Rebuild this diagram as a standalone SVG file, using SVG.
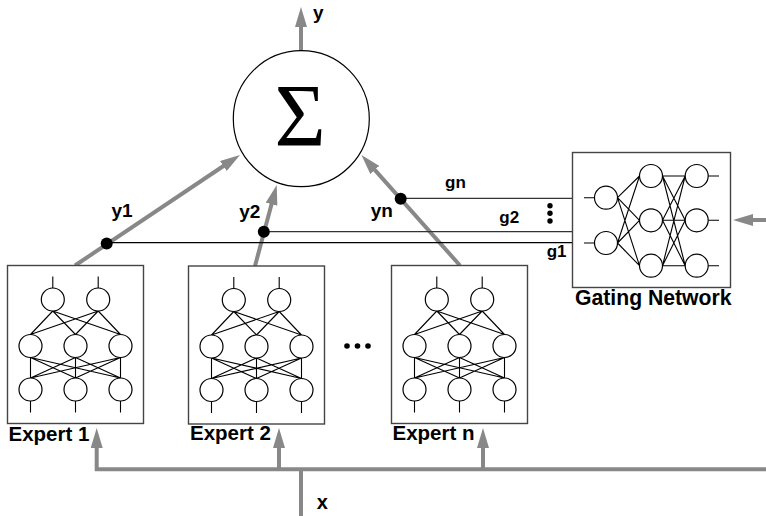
<svg xmlns="http://www.w3.org/2000/svg" xmlns:xlink="http://www.w3.org/1999/xlink" width="766" height="516" viewBox="0 0 766 516">
<style>
.lbl{font-family:"Liberation Sans",Arial,sans-serif;font-weight:bold;fill:#000}
.n{fill:#fff;stroke:#000;stroke-width:1.2}
.w{stroke:#000;stroke-width:1.1;fill:none}
.box{fill:#fff;stroke:#444;stroke-width:1.4}
.g{stroke:#888;stroke-width:4;fill:none}
.gate{stroke:#333;stroke-width:1.2;fill:none}
</style>
<defs>
<marker id="ah" markerUnits="userSpaceOnUse" markerWidth="20" markerHeight="12" refX="1" refY="6" orient="auto">
<path d="M0,0 L20,6 L0,12 Z" fill="#888"/>
</marker>
<g id="net">
<rect class="box" x="0" y="0" width="136" height="158"/>
<path class="w" d="M45.3,11 V22.5 M90.7,11 V22.5 M23,135.5 V147 M68,135.5 V147 M113,135.5 V147"/>
<path class="w" d="M45.3,45.5 L23,69 M45.3,45.5 L68,69 M45.3,45.5 L113,69 M90.7,45.5 L23,69 M90.7,45.5 L68,69 M90.7,45.5 L113,69"/>
<path class="w" d="M23,92 L23,112.5 M23,92 L68,112.5 M23,92 L113,112.5 M68,92 L23,112.5 M68,92 L68,112.5 M68,92 L113,112.5 M113,92 L23,112.5 M113,92 L68,112.5 M113,92 L113,112.5"/>
<circle class="n" cx="45.3" cy="34" r="11.5"/>
<circle class="n" cx="90.7" cy="34" r="11.5"/>
<circle class="n" cx="23" cy="80.5" r="11.5"/>
<circle class="n" cx="68" cy="80.5" r="11.5"/>
<circle class="n" cx="113" cy="80.5" r="11.5"/>
<circle class="n" cx="23" cy="124" r="11.5"/>
<circle class="n" cx="68" cy="124" r="11.5"/>
<circle class="n" cx="113" cy="124" r="11.5"/>
</g>
</defs>

<g id="connectors">
<path class="g" d="M301,51 V26" marker-end="url(#ah)"/>
<path class="g" d="M75,265.5 L224.2,165.5" marker-end="url(#ah)"/>
<path class="g" d="M255,266 L271.8,203.3" marker-end="url(#ah)"/>
<path class="g" d="M460,265.5 L374.1,169.2" marker-end="url(#ah)"/>
<path class="g" d="M766,469.3 H96.7 V447" marker-end="url(#ah)"/>
<path class="g" d="M279,469.3 V447" marker-end="url(#ah)"/>
<path class="g" d="M483,469.3 V447" marker-end="url(#ah)"/>
<path class="g" d="M301,516 V469.3"/>
<path class="g" d="M766,220 H752" marker-end="url(#ah)"/>
<path class="gate" d="M400.7,198.3 H572.5"/>
<path class="gate" d="M263.3,231.7 H572.5"/>
<path d="M106.7,242.7 H572.5" stroke="#000" stroke-width="1.2" fill="none"/>
<circle cx="106.7" cy="243.5" r="6" fill="#000"/>
<circle cx="263.8" cy="231.7" r="6" fill="#000"/>
<circle cx="400.7" cy="198.8" r="6" fill="#000"/>
</g>

<g id="sum">
<circle cx="301.3" cy="118.7" r="68" fill="#fff" stroke="#000" stroke-width="1.2"/>
<text x="300" y="145" text-anchor="middle" font-family="'Liberation Serif','Times New Roman',serif" font-size="88">Σ</text>
</g>

<g id="expert1">
<use xlink:href="#net" x="7.5" y="265.5"/>
<text class="lbl" x="8.5" y="441" font-size="20.5">Expert 1</text>
</g>
<g id="expert2">
<use xlink:href="#net" x="188.5" y="266"/>
<text class="lbl" x="190" y="439.5" font-size="20.5">Expert 2</text>
</g>
<g id="expertn">
<use xlink:href="#net" x="391.5" y="265.5"/>
<text class="lbl" x="392.5" y="440" font-size="20.5">Expert n</text>
</g>

<g id="gating">
<rect class="box" x="572.5" y="152.5" width="158" height="135" stroke="#000"/>
<path class="w" d="M584,197.7 H594.5 M584,243 H594.5 M708.2,176 H719 M708.2,220.3 H719 M708.2,265.7 H719"/>
<path class="w" d="M617.5,197.7 L639.5,176 M617.5,197.7 L639.5,220.3 M617.5,197.7 L639.5,265.7 M617.5,243 L639.5,176 M617.5,243 L639.5,220.3 M617.5,243 L639.5,265.7"/>
<path class="w" d="M662.5,176 L685.2,176 M662.5,176 L685.2,220.3 M662.5,176 L685.2,265.7 M662.5,220.3 L685.2,176 M662.5,220.3 L685.2,220.3 M662.5,220.3 L685.2,265.7 M662.5,265.7 L685.2,176 M662.5,265.7 L685.2,220.3 M662.5,265.7 L685.2,265.7"/>
<circle class="n" cx="606" cy="197.7" r="11.5"/>
<circle class="n" cx="606" cy="243" r="11.5"/>
<circle class="n" cx="651" cy="176" r="11.5"/>
<circle class="n" cx="651" cy="220.3" r="11.5"/>
<circle class="n" cx="651" cy="265.7" r="11.5"/>
<circle class="n" cx="696.7" cy="176" r="11.5"/>
<circle class="n" cx="696.7" cy="220.3" r="11.5"/>
<circle class="n" cx="696.7" cy="265.7" r="11.5"/>
<text class="lbl" x="575" y="305" font-size="21.2">Gating Network</text>
</g>

<g id="labels">
<text class="lbl" x="313" y="19" font-size="19">y</text>
<text class="lbl" x="111.5" y="216.5" font-size="19">y1</text>
<text class="lbl" x="239.3" y="218" font-size="19">y2</text>
<text class="lbl" x="370.8" y="216.7" font-size="19">yn</text>
<text class="lbl" x="445" y="188" font-size="17">gn</text>
<text class="lbl" x="499.3" y="223" font-size="17">g2</text>
<text class="lbl" x="546.7" y="257.3" font-size="17">g1</text>
<text class="lbl" x="316.7" y="509" font-size="20">x</text>
<circle cx="550" cy="205.7" r="2.7"/>
<circle cx="550" cy="213.3" r="2.7"/>
<circle cx="550" cy="221" r="2.7"/>
<circle cx="347" cy="346" r="2.8"/>
<circle cx="357.5" cy="346" r="2.8"/>
<circle cx="368" cy="346" r="2.8"/>
</g>
</svg>
